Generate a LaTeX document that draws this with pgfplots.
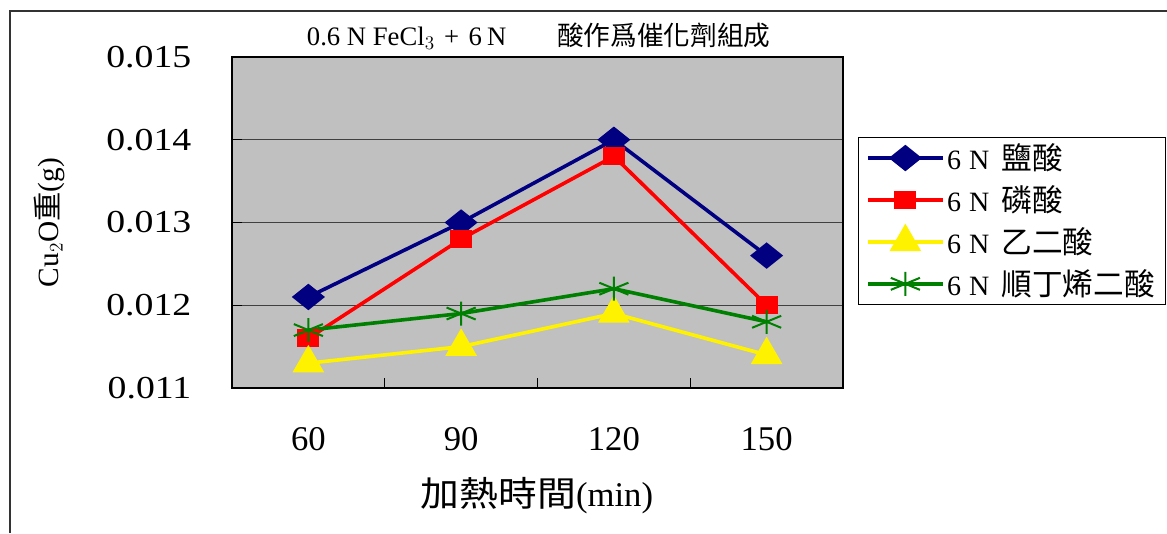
\documentclass[border=0pt]{standalone}
\usepackage{fontspec}
\setmainfont{Liberation Serif}
\newfontfamily\cjk{Noto Sans CJK TC}
\newfontfamily\cjkw{Noto Sans CJK TC}[FakeStretch=1.12]
\newfontfamily\tickw{Liberation Serif}[FakeStretch=1.18]
\usepackage{pgfplots}
\pgfplotsset{compat=1.18}
\definecolor{navyb}{RGB}{0,0,128}
\definecolor{grn}{RGB}{0,128,0}
\definecolor{bg}{RGB}{192,192,192}
\begin{document}
\begin{tikzpicture}
\path[use as bounding box] (0,0) rectangle (875.25pt,399.75pt);
\draw[line width=1.1pt, black!80] (7.5pt,0) -- (7.5pt,391.5pt) -- (875.25pt,391.5pt);
\begin{axis}[
 at={(174pt,108.75pt)}, anchor=south west,
 scale only axis, width=458.25pt, height=248.25pt,
 xmin=-0.5, xmax=3.5, ymin=0.011, ymax=0.015,
 scaled y ticks=false,
 axis background/.style={fill=bg},
 axis line style={line width=1.8pt, black},
 ytick={0.011,0.012,0.013,0.014,0.015},
 yticklabels={0.011,0.012,0.013,0.014,0.015},
 ymajorgrids, grid style={line width=1pt, black!75},
 xtick={0.5,1.5,2.5}, xticklabels={},
 extra x ticks={0,1,2,3}, extra x tick labels={60,90,120,150},
 extra x tick style={major tick length=0pt, grid=none, xticklabel style={yshift=-26pt}},
 tick align=inside, xtick pos=left, ytick pos=left,
 major tick length=7.5pt, tick style={line width=1pt, black},
 xticklabel style={font=\fontsize{26}{30}\selectfont},
 yticklabel style={font=\tickw\fontsize{24}{28}\selectfont, xshift=-27pt},
 title={0.6\hspace{5pt}N\hspace{5pt}FeCl$_3$\hspace{7pt}+\hspace{7pt}6\hspace{4pt}N\hspace{38pt}{\cjk 酸作爲催化劑組成}},
 title style={font=\fontsize{20}{24}\selectfont, at={(axis description cs:0.502,1)}, anchor=south, yshift=-4pt},
 xlabel={{\cjkw 加熱時間}(min)},
 xlabel style={font=\fontsize{26}{30}\selectfont, at={(axis description cs:0.499,0)}, anchor=center, yshift=-81pt},
 ylabel={Cu$_2$O{\cjk 重}(g)},
 ylabel style={font=\fontsize{22}{26}\selectfont, at={([xshift=-137pt]axis description cs:0,0.5)}, anchor=center},
 legend style={at={(axis description cs:1.0245,0.758)}, anchor=north west, draw=black, fill=white,
   font=\fontsize{21}{25}\selectfont, row sep=6.5pt, inner xsep=6pt, inner ysep=3pt},
 legend cell align=left,
 legend image code/.code={\draw[mark repeat=2,mark phase=2] plot coordinates {(0pt,0pt)(28pt,0pt)(56pt,0pt)};},
]
\addplot[navyb, line width=2.7pt, mark=square*, mark size=5.8pt, mark options={solid, xscale=1.25, rotate=45}]
 coordinates {(0,0.0121)(1,0.0130)(2,0.0140)(3,0.0126)};
\addlegendentry{6\hspace{6pt}N\hspace{9pt}{\cjk\fontsize{23}{25}\selectfont 鹽酸}}
\addplot[red, line width=2.7pt, mark=square*, mark size=5.3pt, mark options={solid, xscale=1.3}]
 coordinates {(0,0.0116)(1,0.0128)(2,0.0138)(3,0.0120)};
\addlegendentry{6\hspace{6pt}N\hspace{9pt}{\cjk\fontsize{23}{25}\selectfont 磷酸}}
\addplot[yellow, line width=2.7pt, mark=triangle*, mark size=11pt, mark options={solid}]
 coordinates {(0,0.0113)(1,0.0115)(2,0.0119)(3,0.0114)};
\addlegendentry{6\hspace{6pt}N\hspace{9pt}{\cjk\fontsize{23}{25}\selectfont 乙二酸}}
\addplot[grn, line width=2.7pt, mark=asterisk, mark size=9pt, mark options={solid, xscale=1.4, line width=1.5pt}]
 coordinates {(0,0.0117)(1,0.0119)(2,0.0122)(3,0.0118)};
\addlegendentry{6\hspace{6pt}N\hspace{9pt}{\cjk\fontsize{23}{25}\selectfont 順丁烯二酸}}
\end{axis}
\end{tikzpicture}
\end{document}
